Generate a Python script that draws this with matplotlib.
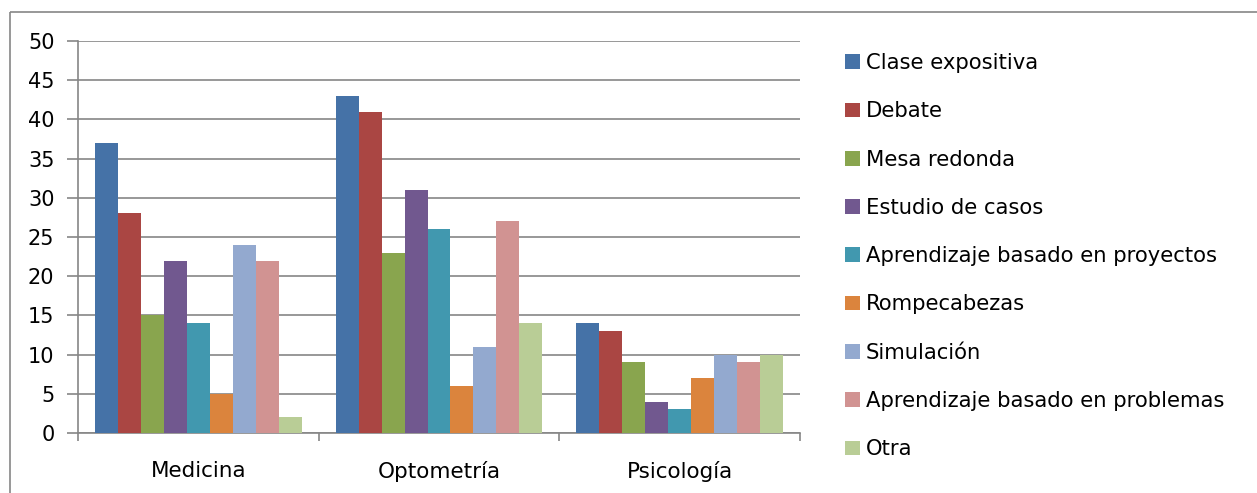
import matplotlib.pyplot as plt
import numpy as np
from matplotlib.lines import Line2D

# Data
categories = ['Medicina', 'Optometría', 'Psicología']
series = ['Clase expositiva', 'Debate', 'Mesa redonda', 'Estudio de casos',
          'Aprendizaje basado en proyectos', 'Rompecabezas', 'Simulación',
          'Aprendizaje basado en problemas', 'Otra']
values = [
    [37, 43, 14],   # Clase expositiva
    [28, 41, 13],   # Debate
    [15, 23, 9],    # Mesa redonda
    [22, 31, 4],    # Estudio de casos
    [14, 26, 3],    # Aprendizaje basado en proyectos
    [5, 6, 7],      # Rompecabezas
    [24, 11, 10],   # Simulación
    [22, 27, 9],    # Aprendizaje basado en problemas
    [2, 14, 10],    # Otra
]
colors = ['#4572A7', '#AA4643', '#89A54E', '#71588F', '#4198AF',
          '#DB843D', '#93A9CF', '#D19392', '#B9CD96']

plt.rcParams['font.family'] = ['DejaVu Sans']
plt.rcParams['font.size'] = 15

fig = plt.figure(figsize=(12.57, 4.93), dpi=100)
W, H = 1257, 493
ax = fig.add_axes([78 / W, 1 - 433 / H, (800 - 78) / W, (433 - 41) / H])

# outer chart border (only top and left edges are visible in the reference)
fig.lines.append(Line2D([9.5 / W, 9.5 / W], [0.0, 1 - 11.5 / H],
                        transform=fig.transFigure, color='#868686',
                        linewidth=1.2, solid_capstyle='butt'))
fig.lines.append(Line2D([9.5 / W, 1.0], [1 - 11.5 / H, 1 - 11.5 / H],
                        transform=fig.transFigure, color='#868686',
                        linewidth=1.2, solid_capstyle='butt'))

x = np.arange(len(categories))
n = len(series)
width = 0.86 / n
for i, (name, vals) in enumerate(zip(series, values)):
    ax.bar(x - 0.43 + width * (i + 0.5), vals, width, color=colors[i],
           label=name, zorder=3)

ax.set_xlim(-0.5, len(categories) - 0.5)
ax.set_ylim(0, 50)
ax.set_yticks(range(0, 51, 5))
ax.grid(axis='y', color='#868686', linewidth=1.2, zorder=0)
ax.set_xticks(x)
ax.set_xticklabels(categories, fontsize=15.5)
ax.set_xticks(np.arange(-0.5, len(categories)), minor=True)
ax.tick_params(axis='x', which='major', length=0, pad=20)
ax.tick_params(axis='x', which='minor', length=6, color='#868686', width=1.2)
ax.tick_params(axis='y', length=8, color='#868686', width=1.2, pad=9)
for s in ['top', 'right']:
    ax.spines[s].set_visible(False)
for s in ['left', 'bottom']:
    ax.spines[s].set_color('#868686')
    ax.spines[s].set_linewidth(1.2)

fig.legend(loc='upper left', bbox_to_anchor=(845 / W, 1 - 53 / H), frameon=False,
           handlelength=0.7, handleheight=0.7, handletextpad=0.3,
           labelspacing=1.34, borderaxespad=0, borderpad=0, fontsize=15.2)

fig.savefig('out.png', dpi=100)
